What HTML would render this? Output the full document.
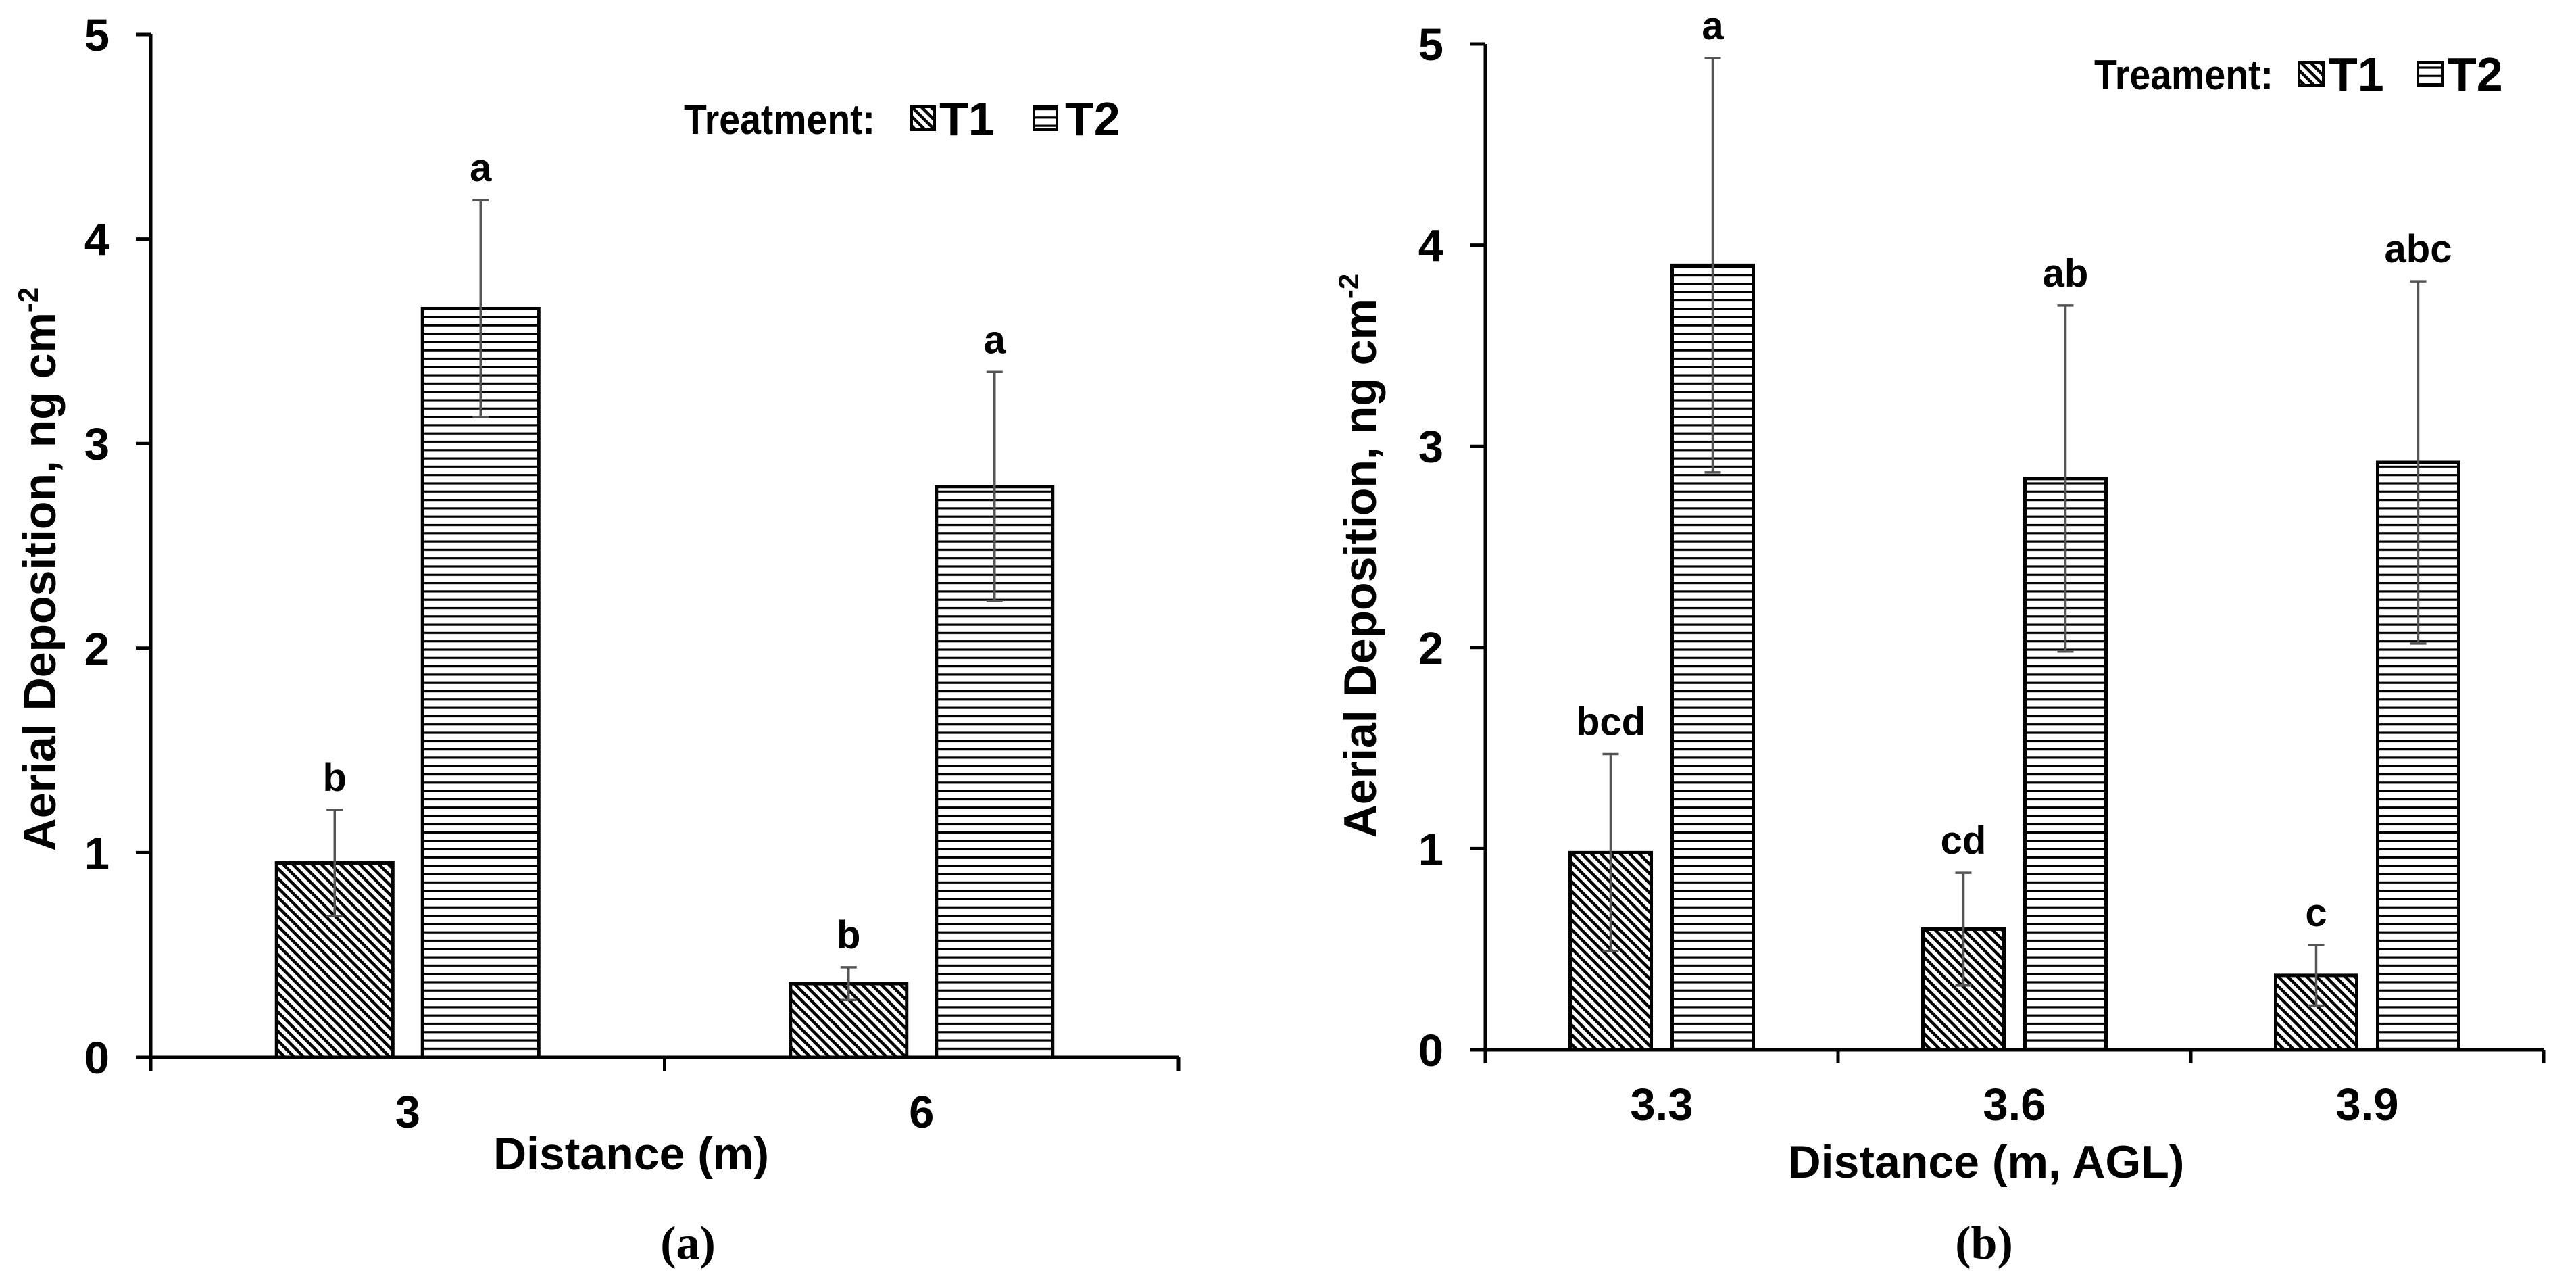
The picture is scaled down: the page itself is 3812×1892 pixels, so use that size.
<!DOCTYPE html>
<html><head><meta charset="utf-8"><style>
html,body{margin:0;padding:0;background:#fff;}
svg{display:block;font-family:"Liberation Sans",Arial,sans-serif;}
</style></head><body>
<svg id="fig" width="3812" height="1892" viewBox="0 0 3812 1892" xmlns="http://www.w3.org/2000/svg">
<defs>
<pattern id="diag" patternUnits="userSpaceOnUse" width="10" height="10" patternTransform="rotate(-45)">
<rect width="10" height="10" fill="#fff"/><rect x="0" y="0" width="4.5" height="10" fill="#000"/>
</pattern>
<pattern id="horiz" patternUnits="userSpaceOnUse" width="12" height="12.3">
<rect width="12" height="12.3" fill="#fff"/><rect x="0" y="0" width="12" height="3.2" fill="#000"/>
</pattern>
</defs>
<g id="chartA"></g>
<g id="chartB"></g>
</svg>
<script>
// Chart (a)
const catsA = ["3", "6"];
const t1A = [0.95, 0.36];
const t1ErrA = [0.26, 0.08];
const t2A = [3.66, 2.79];
const t2ErrA = [0.53, 0.56];
const t1LetA = ["b", "b"];
const t2LetA = ["a", "a"];
// Chart (b)
const catsB = ["3.3", "3.6", "3.9"];
const t1B = [0.98, 0.60, 0.37];
const t1ErrB = [0.49, 0.28, 0.15];
const t2B = [3.90, 2.84, 2.92];
const t2ErrB = [1.03, 0.86, 0.90];
const t1LetB = ["bcd", "cd", "c"];
const t2LetB = ["a", "ab", "abc"];
const yTicks = [0, 1, 2, 3, 4, 5];

const NS = "http://www.w3.org/2000/svg";
function mk(parent, tag, attrs, text) {
  const e = document.createElementNS(NS, tag);
  for (const k in attrs) e.setAttribute(k, attrs[k]);
  if (text !== undefined) e.textContent = text;
  parent.appendChild(e);
  return e;
}

function drawChart(g, cfg) {
  const y = v => cfg.y0 - v * (cfg.y0 - cfg.y5) / 5;
  const catW = (cfg.xEnd - cfg.x0) / cfg.cats.length;
  const cx = i => cfg.x0 + catW * (i + 0.5);
  let e = mk(g, "line", {x1: cfg.x0, y1: cfg.y5, x2: cfg.x0, y2: cfg.y0 + 20, stroke: "#000", "stroke-width": 5});
  
  
  yTicks.forEach(t => {
    const tl = mk(g, "line", {x1: cfg.x0 - 22, y1: y(t), x2: cfg.x0, y2: y(t), stroke: "#000", "stroke-width": 5});
    
    
    const tx = mk(g, "text", {x: cfg.tickRight, y: y(t) + 24, "text-anchor": "end", "font-size": 67, "font-weight": "bold"}, String(t));
    
    
  });
  cfg.cats.forEach((c, i) => {
    const c0 = cx(i);
    const specs = [
      {v: cfg.t1[i], err: cfg.t1Err[i], let: cfg.t1Let[i], x: c0 - cfg.gap / 2 - cfg.bw, fill: "url(#diag)", name: "bar-t1-" + c},
      {v: cfg.t2[i], err: cfg.t2Err[i], let: cfg.t2Let[i], x: c0 + cfg.gap / 2, fill: "url(#horiz)", name: "bar-t2-" + c}
    ];
    specs.forEach(s => {
      const r = mk(g, "rect", {x: s.x, y: y(s.v), width: cfg.bw, height: y(0) - y(s.v), fill: s.fill, stroke: "#000", "stroke-width": 5});
      
      
      const mx = s.x + cfg.bw / 2;
      const eb = mk(g, "path", {d: `M${mx},${y(s.v + s.err)} V${y(s.v - s.err)} M${mx - 12},${y(s.v + s.err)} H${mx + 12} M${mx - 12},${y(s.v - s.err)} H${mx + 12}`, stroke: "#555", "stroke-width": 3.5, fill: "none"});
      
      
      const lt = mk(g, "text", {x: mx, y: y(s.v + s.err) - 28, "text-anchor": "middle", "font-size": 58, "font-weight": "bold"}, s.let);
      
      
    });
    const xl = mk(g, "text", {x: c0, y: cfg.y0 + 104, "text-anchor": "middle", "font-size": 67, "font-weight": "bold"}, c);
    
    
  });
  e = mk(g, "line", {x1: cfg.x0 - 22, y1: cfg.y0, x2: cfg.xEnd, y2: cfg.y0, stroke: "#000", "stroke-width": 5});
  
  
  for (let i = 1; i <= cfg.cats.length; i++) {
    const tk = mk(g, "line", {x1: cfg.x0 + catW * i, y1: cfg.y0, x2: cfg.x0 + catW * i, y2: cfg.y0 + 20, stroke: "#000", "stroke-width": 5});
    
    
  }
}

const gA = document.getElementById("chartA");
drawChart(gA, {x0: 223, xEnd: 1744, y0: 1564, y5: 51, tickRight: 162, bw: 172, gap: 44,
  cats: catsA, t1: t1A, t1Err: t1ErrA, t2: t2A, t2Err: t2ErrA, t1Let: t1LetA, t2Let: t2LetA});
const gB = document.getElementById("chartB");
drawChart(gB, {x0: 2198, xEnd: 3764, y0: 1553, y5: 65, tickRight: 2136, bw: 120, gap: 31,
  cats: catsB, t1: t1B, t1Err: t1ErrB, t2: t2B, t2Err: t2ErrB, t1Let: t1LetB, t2Let: t2LetB});
</script>
<svg style="position:absolute;left:0;top:0" width="3812" height="1892" viewBox="0 0 3812 1892" xmlns="http://www.w3.org/2000/svg" font-family="Liberation Sans, Arial, sans-serif" font-weight="bold">
<text transform="translate(82,842) rotate(-90)" text-anchor="middle" font-size="68">Aerial Deposition, ng cm<tspan font-size="42" dy="-26">-2</tspan></text>
<text x="934" y="1730" text-anchor="middle" font-size="68">Distance  (m)</text>
<text x="1018" y="1862" text-anchor="middle" font-size="70" font-family="Liberation Serif, serif">(a)</text>
<g>
<text x="1012" y="198" font-size="62" textLength="283" lengthAdjust="spacingAndGlyphs">Treatment:</text>
<rect x="1349" y="158" width="34" height="34" fill="url(#diag)" stroke="#000" stroke-width="4"/>
<text x="1390" y="200" font-size="70">T1</text>
<rect x="1530" y="158" width="34" height="34" fill="url(#horiz)" stroke="#000" stroke-width="4"/>
<text x="1576" y="200" font-size="70">T2</text>
</g>
<text transform="translate(2036,822) rotate(-90)" text-anchor="middle" font-size="68">Aerial Deposition, ng cm<tspan font-size="42" dy="-26">-2</tspan></text>
<text x="2939" y="1742" text-anchor="middle" font-size="68">Distance  (m, AGL)</text>
<text x="2936" y="1862" text-anchor="middle" font-size="70" font-family="Liberation Serif, serif">(b)</text>
<g>
<text x="3099" y="132" font-size="62" textLength="265" lengthAdjust="spacingAndGlyphs">Treament:</text>
<rect x="3402" y="92" width="36" height="34" fill="url(#diag)" stroke="#000" stroke-width="4"/>
<text x="3446" y="134" font-size="70">T1</text>
<rect x="3578" y="92" width="36" height="34" fill="url(#horiz)" stroke="#000" stroke-width="4"/>
<text x="3622" y="134" font-size="70">T2</text>
</g>
</svg>
</body></html>
